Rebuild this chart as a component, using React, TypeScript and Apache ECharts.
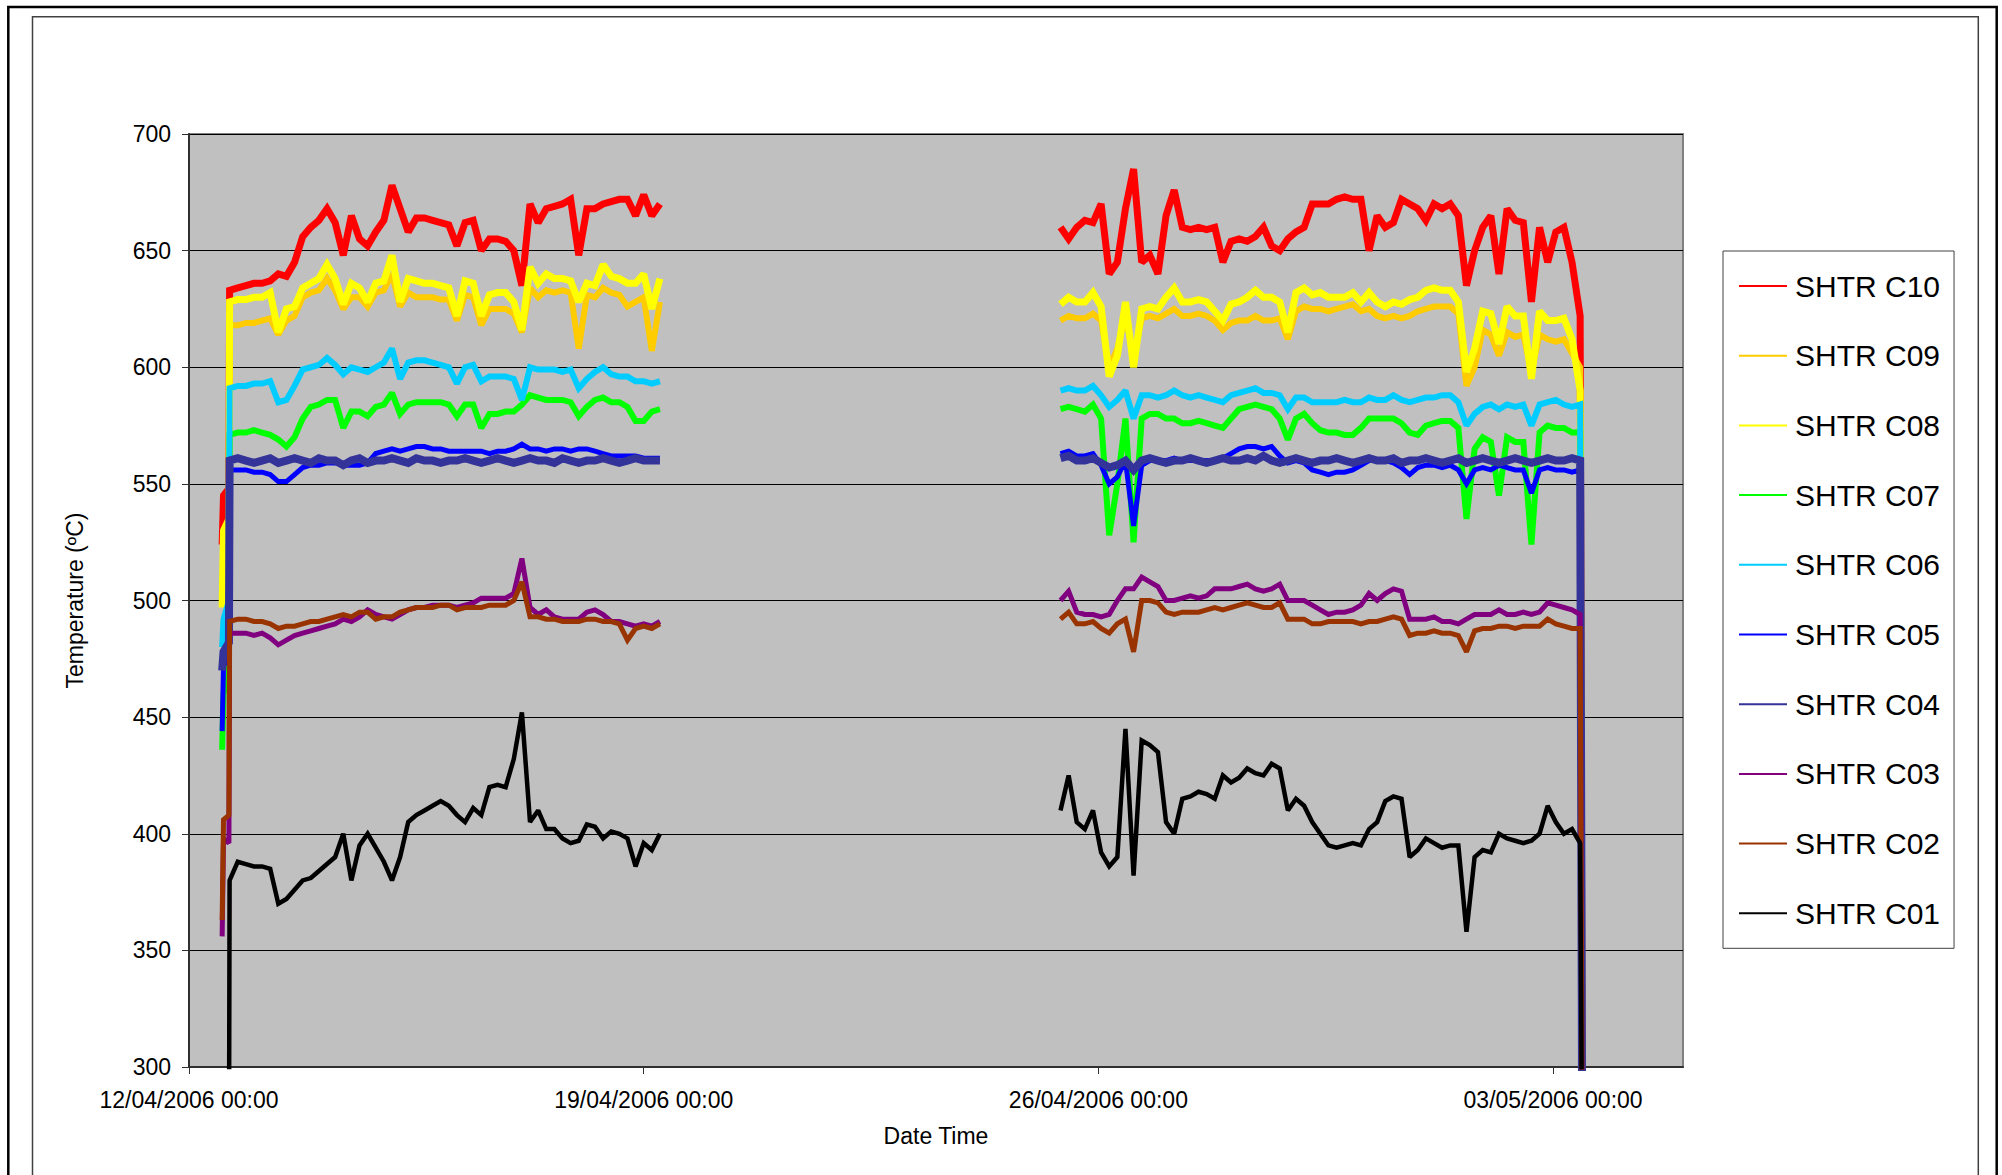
import { useEffect, useRef } from "react";
import * as echarts from "echarts";

// ---- Axis / tick data ----
const TICK_DAYS = [0, 7, 14, 21]; // days since 12/04/2006 00:00
const TICK_LABELS = ["12/04/2006 00:00", "19/04/2006 00:00", "26/04/2006 00:00", "03/05/2006 00:00"];
const X_MIN = 0;
const X_MAX = 23;
const Y_MIN = 300;
const Y_MAX = 700;
const Y_STEP = 50;

// ---- Sampling times (days since 12/04/2006 00:00) ----
const RAMP_TIMES = [0.5104, 0.5313, 0.6146]; // 12/04 12:15, 12:45, 14:45
const SEG1_START = 0.625; // 12/04/2006 15:00
const SEG2_START = 13.4167; // 25/04/2006 10:00
const SAMPLE_STEP = 0.125; // 3 hours
const GAP_TIME = 10; // no data between runs
const DROP_TIME = 21.45; // 03/05/2006 ~10:50, shutdown
const DROP_VALUE = 250;

const SERIES_NAMES = ["SHTR C10", "SHTR C09", "SHTR C08", "SHTR C07", "SHTR C06", "SHTR C05", "SHTR C04", "SHTR C03", "SHTR C02", "SHTR C01"];
const SERIES_COLORS = ["#FF0000", "#FFCC00", "#FFFF00", "#00FF00", "#00CCFF", "#0000FF", "#333399", "#800080", "#993300", "#000000"];
const LINE_WIDTHS = [7, 6, 7, 6, 6, 5, 8, 5, 5, 4.5];

// ---- Start-up ramp values ----
const C10_RAMP = [524, 545, 548];
const C09_RAMP = [500, 528, 532];
const C08_RAMP = [497, 530, 535];
const C07_RAMP = [436, 460, 468];
const C06_RAMP = [480, 492, 500];
const C05_RAMP = [444, 472, 476];
const C04_RAMP = [470, 478, 482];
const C03_RAMP = [356, 398, 396];
const C02_RAMP = [363, 406, 408];
const C01_RAMP = [null, null, 250];

// ---- Run 1: 12/04 15:00 .. 19/04 06:00, every 3 h ----
const C10_SEG1 = [633,634,635,636,636,637,640,639,645,656,660,663,668,662,648,665,655,652,658,663,678,668,658,664,664,663,662,661,652,662,663,650,655,655,654,650,635,670,662,668,669,670,672,648,668,668,670,671,672,672,665,674,665,670];
const C09_SEG1 = [618,618,619,619,620,621,614,620,622,630,632,633,638,633,625,630,630,626,632,633,640,626,632,630,630,630,629,629,620,631,630,618,625,625,625,623,615,634,630,633,632,633,632,608,631,630,634,632,631,626,628,630,607,628];
const C08_SEG1 = [628,629,629,630,630,632,615,625,626,634,636,638,644,638,627,636,634,628,636,637,648,628,638,637,636,636,635,634,622,637,636,622,631,632,632,628,616,643,636,640,638,638,637,628,636,635,644,639,638,636,636,640,625,638];
const C07_SEG1 = [571,572,572,573,572,571,569,566,570,578,583,584,586,586,574,581,581,579,583,584,589,580,584,585,585,585,585,584,579,584,584,574,580,580,581,581,584,588,587,586,586,586,585,579,583,586,587,585,585,583,577,577,581,582];
const C06_SEG1 = [591,592,592,593,593,594,585,586,592,599,600,601,604,601,597,600,599,598,600,602,608,595,602,603,603,602,601,600,593,600,601,594,596,596,596,595,586,600,599,599,599,598,599,591,595,598,600,597,596,596,594,594,593,594];
const C05_SEG1 = [556,556,556,555,555,554,551,551,554,557,558,558,559,559,558,558,558,559,563,564,565,564,565,566,566,565,565,564,564,564,564,564,563,564,564,565,567,565,565,564,565,565,564,565,565,564,563,562,562,562,562,561,561,561];
const C04_SEG1 = [560,561,560,559,560,561,559,560,561,560,559,561,560,560,558,560,561,559,560,560,561,560,559,561,560,560,559,560,560,561,560,559,560,561,560,559,560,561,560,560,559,561,560,559,560,560,561,560,559,560,561,560,560,560];
const C03_SEG1 = [486,486,486,485,486,484,481,483,485,486,487,488,489,490,492,491,493,496,494,493,492,494,496,497,497,498,498,498,497,498,499,501,501,501,501,503,518,497,494,496,493,492,492,492,495,496,494,491,491,490,489,490,489,491];
const C02_SEG1 = [491,492,492,491,491,490,488,489,489,490,491,491,492,493,494,493,495,495,492,493,493,495,496,497,497,497,498,498,496,497,497,497,498,498,498,500,508,493,493,492,492,491,491,491,492,492,491,491,490,483,488,489,488,490];
const C01_SEG1 = [380,388,387,386,386,385,370,372,376,380,381,384,387,390,400,380,395,400,394,388,380,390,405,408,410,412,414,412,408,405,411,408,420,421,420,432,452,405,410,402,402,398,396,397,404,403,398,401,400,398,386,396,393,400];

// ---- Run 2: 25/04 10:00 .. 03/05 10:00, every 3 h ----
const C10_SEG2 = [660,655,660,663,662,670,640,645,668,685,645,648,640,665,676,660,659,660,659,660,645,654,655,654,656,660,652,650,655,658,660,670,670,670,672,673,672,672,650,665,660,662,672,670,668,663,670,668,670,665,635,650,660,665,640,668,663,662,628,660,645,658,660,645,622];
const C09_SEG2 = [620,622,621,621,623,620,600,608,622,604,621,622,621,623,625,622,622,623,622,620,616,619,620,620,622,620,620,621,612,624,626,625,625,624,625,626,627,624,625,622,621,622,621,622,624,625,626,626,626,623,592,600,616,614,605,615,613,614,598,614,612,611,612,606,600];
const C08_SEG2 = [627,630,628,628,632,626,596,605,628,600,625,626,625,630,634,628,628,629,628,624,620,627,628,630,633,630,630,628,615,632,634,631,632,630,630,630,632,628,632,628,626,628,627,629,630,633,634,633,633,628,598,608,624,623,610,626,622,622,595,624,620,620,621,612,590];
const C07_SEG2 = [582,583,582,581,584,578,528,550,578,525,578,580,580,578,578,576,576,577,576,575,574,578,582,583,584,583,582,578,569,578,580,576,573,572,572,571,571,574,578,578,578,578,576,572,571,575,576,577,577,574,535,565,570,568,545,570,568,568,524,572,575,574,574,572,572];
const C06_SEG2 = [590,591,590,590,592,588,583,586,590,578,588,588,587,588,590,588,587,588,587,586,585,588,589,590,591,589,589,588,582,587,587,585,585,585,585,586,585,585,587,586,586,588,586,585,586,587,587,588,588,585,575,580,583,584,582,584,583,584,575,584,585,586,584,583,584];
const C05_SEG2 = [563,564,562,562,563,558,550,553,560,532,558,560,560,560,561,560,560,560,560,560,561,563,565,566,566,565,566,562,559,560,559,556,555,554,555,555,556,558,560,560,560,559,557,554,557,558,558,557,558,556,550,556,557,556,558,557,556,556,546,556,557,556,556,555,556];
const C04_SEG2 = [561,562,560,560,561,559,557,558,560,556,560,561,560,559,560,560,561,560,559,560,561,560,560,561,560,562,560,559,560,561,560,559,560,560,561,560,559,560,561,560,560,561,559,560,560,561,560,559,560,561,559,560,561,560,559,560,561,560,559,560,561,560,560,561,560];
const C03_SEG2 = [500,504,495,494,494,493,494,500,505,505,510,508,506,500,500,501,502,501,502,505,505,505,506,507,505,504,505,507,500,500,500,498,496,494,495,495,496,498,503,500,503,505,504,492,492,492,493,491,491,490,492,494,494,494,496,494,494,495,494,495,499,498,497,496,494];
const C02_SEG2 = [492,495,490,490,491,488,486,490,492,478,500,500,499,495,494,495,495,495,496,497,496,497,498,499,498,497,497,499,492,492,492,490,490,491,491,491,491,490,491,491,492,493,492,485,486,486,487,486,486,485,478,487,488,488,489,489,488,489,489,489,492,490,489,488,488];
const C01_SEG2 = [410,425,405,402,410,392,386,390,445,382,440,438,435,405,400,415,416,418,417,415,425,422,424,428,426,425,430,428,410,415,412,405,400,395,394,395,396,395,402,405,414,416,415,390,393,398,396,394,395,395,358,390,393,392,400,398,397,396,397,400,412,405,400,402,396];

const RAMPS = [C10_RAMP, C09_RAMP, C08_RAMP, C07_RAMP, C06_RAMP, C05_RAMP, C04_RAMP, C03_RAMP, C02_RAMP, C01_RAMP];
const SEG1 = [C10_SEG1, C09_SEG1, C08_SEG1, C07_SEG1, C06_SEG1, C05_SEG1, C04_SEG1, C03_SEG1, C02_SEG1, C01_SEG1];
const SEG2 = [C10_SEG2, C09_SEG2, C08_SEG2, C07_SEG2, C06_SEG2, C05_SEG2, C04_SEG2, C03_SEG2, C02_SEG2, C01_SEG2];

const FONT = "Arial, 'Liberation Sans', Helvetica, sans-serif";

function buildData(k: number) {
  const out: Array<[number, number | null]> = [];
  RAMPS[k].forEach((v, j) => out.push([RAMP_TIMES[j], v]));
  SEG1[k].forEach((v, i) => out.push([SEG1_START + i * SAMPLE_STEP, v]));
  out.push([GAP_TIME, null]);
  SEG2[k].forEach((v, i) => out.push([SEG2_START + i * SAMPLE_STEP, v]));
  out.push([DROP_TIME, DROP_VALUE]);
  return out;
}

export default function App() {
  const ref = useRef<HTMLDivElement>(null);
  useEffect(() => {
    if (!ref.current) return;
    const chart = echarts.init(ref.current, null, { renderer: "svg" });
    const series = SERIES_NAMES.map((name, k) => ({
      name,
      type: "line",
      data: buildData(k),
      showSymbol: false,
      symbol: "none",
      connectNulls: false,
      clip: true,
      lineStyle: { color: SERIES_COLORS[k], width: LINE_WIDTHS[k], join: "miter", miterLimit: 2 },
      itemStyle: { color: SERIES_COLORS[k] },
      emphasis: { disabled: true },
    }));
    chart.setOption({
      animation: false,
      backgroundColor: "#ffffff",
      textStyle: { fontFamily: FONT },
      grid: {
        left: 189,
        right: 319,
        top: 134,
        bottom: 108,
        show: true,
        backgroundColor: "#C0C0C0",
        borderColor: "#808080",
        borderWidth: 2,
      },
      xAxis: {
        type: "value",
        min: X_MIN,
        max: X_MAX,
        interval: 7,
        name: "Date Time",
        nameLocation: "middle",
        nameGap: 57,
        nameTextStyle: { fontSize: 23, color: "#000", fontFamily: FONT },
        axisLine: { show: true, onZero: false, lineStyle: { color: "#303030", width: 2 } },
        axisTick: { show: true, length: 7, lineStyle: { color: "#303030", width: 1 }, customValues: TICK_DAYS },
        axisLabel: {
          customValues: TICK_DAYS,
          fontSize: 23,
          color: "#000",
          fontFamily: FONT,
          margin: 21,
          formatter: (v: number) => {
            const i = TICK_DAYS.indexOf(Math.round(v));
            return i >= 0 ? TICK_LABELS[i] : "";
          },
        },
        splitLine: { show: false },
      },
      yAxis: {
        type: "value",
        min: Y_MIN,
        max: Y_MAX,
        interval: Y_STEP,
        name: "Temperature (ºC)",
        nameLocation: "middle",
        nameGap: 103,
        nameRotate: 90,
        nameTextStyle: { fontSize: 23, color: "#000", fontFamily: FONT },
        axisLine: { show: true, lineStyle: { color: "#303030", width: 2 } },
        axisTick: { show: true, length: 7, lineStyle: { color: "#303030", width: 1 } },
        axisLabel: { fontSize: 23, color: "#000", fontFamily: FONT, margin: 18 },
        splitLine: { show: true, lineStyle: { color: "#000", width: 1 } },
      },
      legend: {
        orient: "vertical",
        left: 1723,
        top: 251,
        icon: "rect",
        itemWidth: 48,
        itemHeight: 2,
        itemGap: 39.7,
        padding: [20, 14, 20, 16],
        backgroundColor: "#ffffff",
        borderColor: "#404040",
        borderWidth: 1,
        selectedMode: false,
        textStyle: { fontSize: 30, color: "#000", fontFamily: FONT, lineHeight: 30, padding: [0, 0, 0, 3] },
        data: SERIES_NAMES,
      },
      graphic: [
        {
          type: "rect",
          silent: true,
          shape: { x: 8.3, y: 7, width: 1988.4, height: 1300 },
          style: { fill: "none", stroke: "#000", lineWidth: 2.5 },
        },
        {
          type: "rect",
          silent: true,
          shape: { x: 32.5, y: 16.7, width: 1945.8, height: 1300 },
          style: { fill: "none", stroke: "#404040", lineWidth: 1.5 },
        },
      ],
      series,
    });
    return () => chart.dispose();
  }, []);
  return <div ref={ref} style={{ position: "absolute", left: 0, top: 0, width: 2002, height: 1175 }} />;
}
